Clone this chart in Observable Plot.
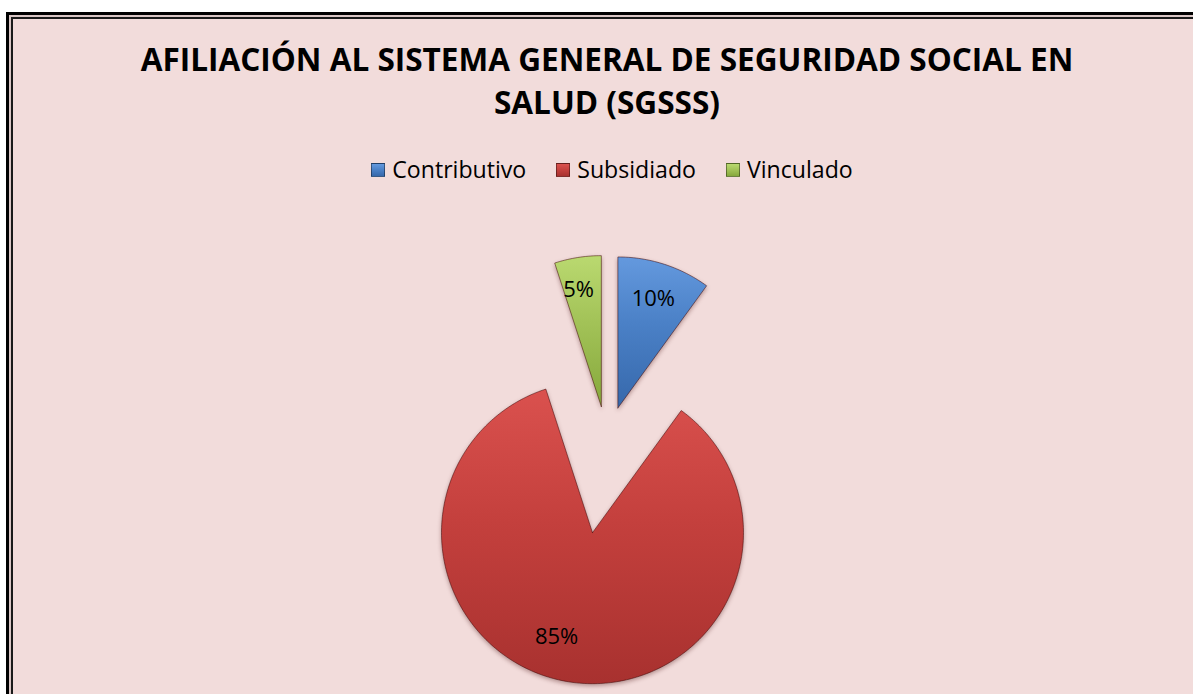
<!DOCTYPE html>
<html>
<head>
<meta charset="utf-8">
<script src="https://cdn.jsdelivr.net/npm/d3@7"></script>
<script src="https://cdn.jsdelivr.net/npm/@observablehq/plot@0.6"></script>
<style>
  html, body { margin: 0; padding: 0; background: #ffffff; width: 1193px; height: 694px; overflow: hidden; }
  #frame { position: absolute; left: 6px; top: 12px; width: 1260px; height: 760px; border: 3px solid #000; background: #d9c6c5; box-sizing: border-box; }
  #inner { position: absolute; left: 2px; top: 2px; right: 0; bottom: 0; border-left: 2px solid #1a1a1a; border-top: 2px solid #1a1a1a; background: #f2dcdb; }
  .title { position: absolute; left: 0; width: 1214px; text-align: center; font-family: "Open Sans", sans-serif; font-weight: 700; color: #000; line-height: 1; white-space: nowrap; }
  #legend { position: absolute; left: 0; width: 1224px; display: flex; justify-content: center; align-items: center; font-family: "Open Sans", sans-serif; color: #000; line-height: 1; white-space: nowrap; }
  .item { display: flex; align-items: center; margin: 0 15px; flex: none; }
  .sw { flex: none; width: 14px; height: 14px; margin-right: 7px; box-sizing: border-box; border: 1px solid rgba(0,0,0,0.4); }
  #chart { position: absolute; left: 0; top: 200px; }
  #chart svg path { filter: drop-shadow(0px 2px 2px rgba(60,0,0,0.35)); }
</style>
</head>
<body>
<div id="frame"><div id="inner"></div></div>
<div id="t1" class="title"></div>
<div id="t2" class="title"></div>
<div id="legend"></div>
<div id="chart"></div>
<script>
// ---- data ----
const titleLines = ["AFILIACIÓN AL SISTEMA GENERAL DE SEGURIDAD SOCIAL EN", "SALUD (SGSSS)"];
const categories = ["Contributivo", "Subsidiado", "Vinculado"];
const values = [10, 85, 5];
const labels = ["10%", "85%", "5%"];

// ---- style ----
const gradStops = [
  ["#6499de", "#4a80c6", "#3668ab"],
  ["#da514e", "#c4403d", "#a8312f"],
  ["#bad970", "#a2c257", "#86a83c"]
];
const explode = [0.235, 0.61, 0.235];   // slice explosion, fraction of radius
const labelFrac = [0.76, 0.73, 0.79];
const labelTurn = [0, 10, -2];          // degrees
const W = 1193, H = 494;
const k = 151;                           // px per radius unit
const cxPx = 606.4, cyPx = 241.2;        // unexploded pie centre inside svg

function fitSize(text, weight, target) {
  const c = document.createElement("canvas").getContext("2d");
  c.font = `${weight} 100px "Open Sans"`;
  return 100 * target / c.measureText(text).width;
}

// ---- title ----
const ts = fitSize(titleLines[0], 700, 933);
const t1 = document.getElementById("t1"), t2 = document.getElementById("t2");
t1.textContent = titleLines[0]; t2.textContent = titleLines[1];
t1.style.fontSize = t2.style.fontSize = ts + "px";
t1.style.top = (70.7 - 0.888 * ts) + "px";
t2.style.top = (114 - 0.888 * ts) + "px";

// ---- legend ----
const ls = fitSize(categories[0], 400, 134);
const legend = document.getElementById("legend");
legend.style.fontSize = ls + "px";
legend.style.top = (170 - ls / 2) + "px";
legend.style.height = ls + "px";
categories.forEach((c, i) => {
  const it = document.createElement("div"); it.className = "item";
  const sw = document.createElement("div"); sw.className = "sw";
  sw.style.background = `linear-gradient(${gradStops[i][0]}, ${gradStops[i][1]} 50%, ${gradStops[i][2]})`;
  const tx = document.createElement("span"); tx.textContent = c;
  it.append(sw, tx); legend.append(it);
});

// ---- pie geometry from values ----
const total = d3.sum(values);
let acc = 0;
const outline = [], labelRows = [];
values.forEach((v, i) => {
  const a0 = acc / total * 360, a1 = (acc + v) / total * 360; acc += v;
  const mid = (a0 + a1) / 2 * Math.PI / 180;
  const ox = explode[i] * Math.sin(mid), oy = explode[i] * Math.cos(mid);
  outline.push({cat: categories[i], x: ox, y: oy});
  const n = Math.max(2, Math.ceil(a1 - a0));
  for (let j = 0; j <= n; j++) {
    const a = (a0 + (a1 - a0) * j / n) * Math.PI / 180;
    outline.push({cat: categories[i], x: ox + Math.sin(a), y: oy + Math.cos(a)});
  }
  outline.push({cat: categories[i], x: ox, y: oy});
  const la = mid + labelTurn[i] * Math.PI / 180;
  labelRows.push({label: labels[i], x: ox + labelFrac[i] * Math.sin(la), y: oy + labelFrac[i] * Math.cos(la)});
});

const svg = Plot.plot({
  width: W, height: H,
  margin: 0,
  style: {background: "transparent", overflow: "visible"},
  x: {axis: null, domain: [-cxPx / k, (W - cxPx) / k]},
  y: {axis: null, domain: [-(H - cyPx) / k, cyPx / k]},
  color: {domain: categories, range: categories.map((c, i) => `url(#g${i})`)},
  marks: [
    Plot.line(outline, {x: "x", y: "y", z: "cat", fill: "cat", stroke: "rgba(60,0,0,0.5)", strokeWidth: 1, curve: "linear"}),
    Plot.text(labelRows, {x: "x", y: "y", text: "label", fontSize: 22, fontFamily: "Open Sans", fill: "#000"})
  ]
});
const defs = d3.select(svg).insert("defs", ":first-child");
gradStops.forEach((s, i) => {
  const g = defs.append("linearGradient").attr("id", `g${i}`).attr("x1", 0).attr("y1", 0).attr("x2", 0).attr("y2", 1);
  g.append("stop").attr("offset", "0%").attr("stop-color", s[0]);
  g.append("stop").attr("offset", "45%").attr("stop-color", s[1]);
  g.append("stop").attr("offset", "100%").attr("stop-color", s[2]);
});
document.getElementById("chart").append(svg);
</script>
</body>
</html>
